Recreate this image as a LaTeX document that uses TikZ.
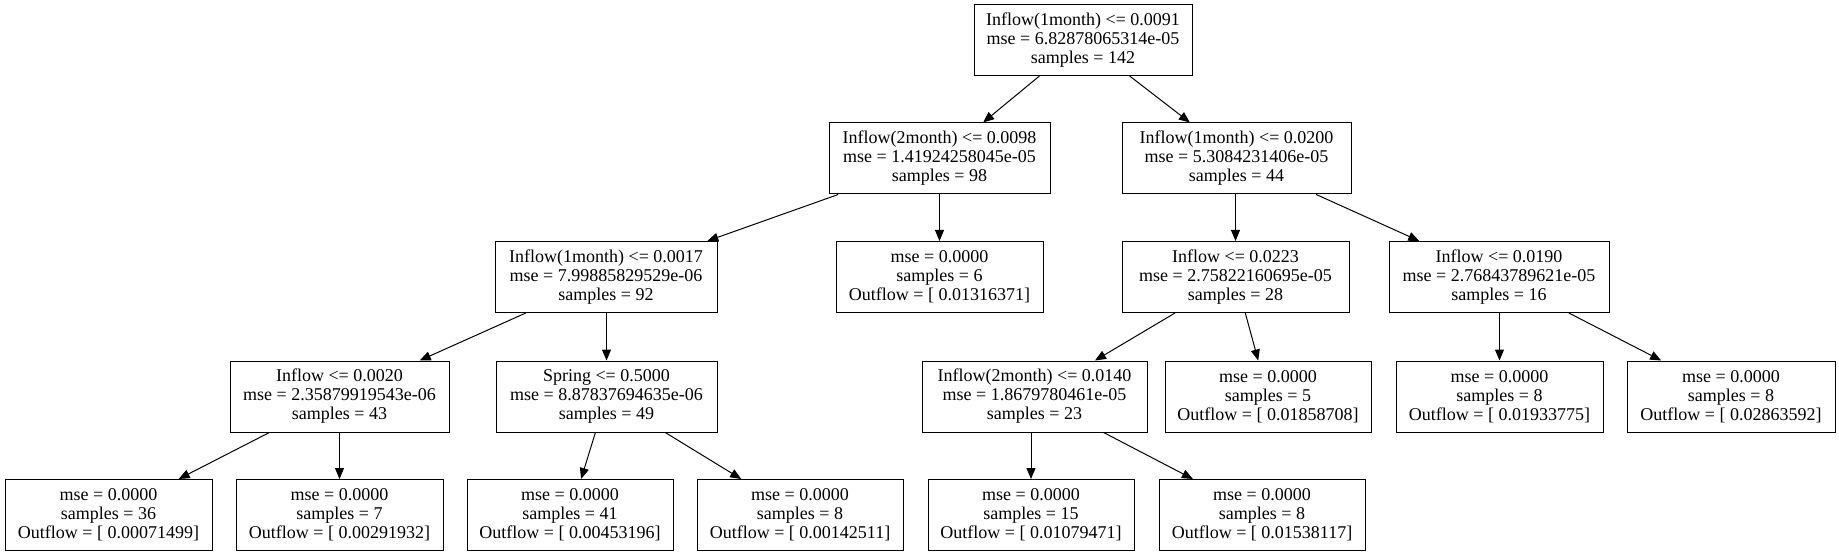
\documentclass[tikz,border=0pt]{standalone}
\usepackage{fontspec}
\setmainfont{Liberation Serif}
\usetikzlibrary{arrows.meta}
\tikzset{
  treebox/.style={draw,line width=1pt,rectangle,align=center,inner sep=0pt,
    minimum height=71pt,font=\fontsize{18}{19}\selectfont},
  treeedge/.style={line width=1pt,-{Triangle[length=11pt,width=9pt]}}
}
\begin{document}
\begin{tikzpicture}[x=1pt,y=-1pt]
\useasboundingbox (0,0) rectangle (1839,556);
% level 0
\node[treebox,minimum width=218pt] (root) at (1083,40) {Inflow(1month) <= 0.0091\\mse = 6.82878065314e-05\\samples = 142};
% level 1
\node[treebox,minimum width=221pt] (in2a) at (939.5,158.5) {Inflow(2month) <= 0.0098\\mse = 1.41924258045e-05\\samples = 98};
\node[treebox,minimum width=229pt] (in1b) at (1236.5,158.5) {Inflow(1month) <= 0.0200\\mse = 5.3084231406e-05\\samples = 44};
% level 2
\node[treebox,minimum width=222pt] (in1c) at (606,277) {Inflow(1month) <= 0.0017\\mse = 7.99885829529e-06\\samples = 92};
\node[treebox,minimum width=207pt] (leafd) at (939.5,277) {mse = 0.0000\\samples = 6\\Outflow = [ 0.01316371]};
\node[treebox,minimum width=227pt] (ine) at (1235.5,277) {Inflow <= 0.0223\\mse = 2.75822160695e-05\\samples = 28};
\node[treebox,minimum width=220pt] (inf) at (1499,277) {Inflow <= 0.0190\\mse = 2.76843789621e-05\\samples = 16};
% level 3
\node[treebox,minimum width=219pt] (ing) at (339.5,396.5) {Inflow <= 0.0020\\mse = 2.35879919543e-06\\samples = 43};
\node[treebox,minimum width=221pt] (springh) at (606.5,396.5) {Spring <= 0.5000\\mse = 8.87837694635e-06\\samples = 49};
\node[treebox,minimum width=225pt] (in2i) at (1034.5,396.5) {Inflow(2month) <= 0.0140\\mse = 1.8679780461e-05\\samples = 23};
\node[treebox,minimum width=206pt] (leafj) at (1268,396.5) {mse = 0.0000\\samples = 5\\Outflow = [ 0.01858708]};
\node[treebox,minimum width=207pt] (leafk) at (1499.5,396.5) {mse = 0.0000\\samples = 8\\Outflow = [ 0.01933775]};
\node[treebox,minimum width=208pt] (leafl) at (1731,396.5) {mse = 0.0000\\samples = 8\\Outflow = [ 0.02863592]};
% level 4
\node[treebox,minimum width=207pt] (leafm) at (108.5,515) {mse = 0.0000\\samples = 36\\Outflow = [ 0.00071499]};
\node[treebox,minimum width=207pt] (leafn) at (339.5,515) {mse = 0.0000\\samples = 7\\Outflow = [ 0.00291932]};
\node[treebox,minimum width=206pt] (leafo) at (570,515) {mse = 0.0000\\samples = 41\\Outflow = [ 0.00453196]};
\node[treebox,minimum width=206pt] (leafp) at (800,515) {mse = 0.0000\\samples = 8\\Outflow = [ 0.00142511]};
\node[treebox,minimum width=206pt] (leafq) at (1031,515) {mse = 0.0000\\samples = 15\\Outflow = [ 0.01079471]};
\node[treebox,minimum width=206pt] (leafr) at (1262,515) {mse = 0.0000\\samples = 8\\Outflow = [ 0.01538117]};
% slanted edges
\foreach \from/\to in {root/in2a,root/in1b,in2a/in1c,in1b/inf,
  in1c/ing,ine/in2i,ine/leafj,inf/leafl,
  ing/leafm,springh/leafo,springh/leafp,in2i/leafr}
  \draw[treeedge] (\from) -- (\to);
% straight down edges
\foreach \from/\to in {in2a/leafd,in1b/ine,in1c/springh,inf/leafk,ing/leafn,in2i/leafq}
  \draw[treeedge] (\to.north |- \from.south) -- (\to.north);
\end{tikzpicture}
\end{document}
